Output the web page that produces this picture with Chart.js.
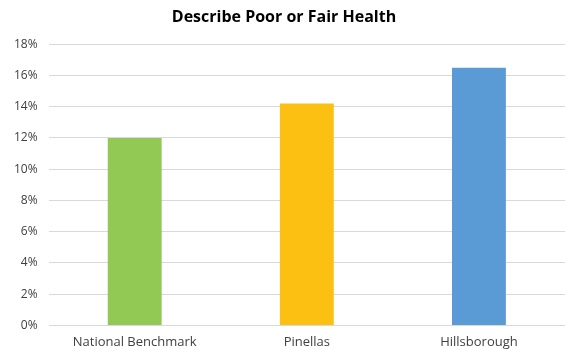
<!DOCTYPE html>
<html>
<head>
<meta charset="utf-8">
<script src="https://cdn.jsdelivr.net/npm/chart.js@4/dist/chart.umd.min.js"></script>
<style>
  html, body { margin: 0; padding: 0; background: #fff; }
  #wrap { width: 569px; height: 351px; }
</style>
</head>
<body>
<div id="wrap"><canvas id="health-canvas"></canvas></div>
<script>
// ========== Data
let categories = ['National Benchmark', 'Pinellas', 'Hillsborough'];
let values = [0.12, 0.142, 0.165];
let barColors = ['#92C955', '#FBC012', '#5B9BD5'];

let fontFamily = "'Open Sans', 'DejaVu Sans', sans-serif";

var healthCanvas = document.getElementById('health-canvas');

var myBarChart = new Chart(healthCanvas, {
    type: 'bar',
    data: {
        labels: categories,
        datasets: [{
            label: 'Describe Poor or Fair Health',
            data: values,
            backgroundColor: barColors,
            barPercentage: 0.313,
            categoryPercentage: 1
        }]
    },
    options: {
        responsive: true,
        maintainAspectRatio: false,
        animation: false,
        layout: { padding: { left: 3, right: 4, top: 0, bottom: 0 } },
        plugins: {
            legend: { display: false },
            tooltip: { enabled: false },
            title: {
                display: true,
                text: 'Describe Poor or Fair Health',
                color: '#000',
                font: { family: fontFamily, size: 16, weight: 'bold' },
                padding: { top: 8, bottom: 17 }
            }
        },
        scales: {
            x: {
                grid: { display: false },
                border: { display: false },
                ticks: {
                    color: '#404040',
                    font: { family: fontFamily, size: 13 },
                    padding: 1,
                    maxRotation: 0
                }
            },
            y: {
                min: 0,
                max: 0.18,
                grid: { color: '#d9d9d9', lineWidth: 1, drawTicks: false },
                border: { display: false },
                ticks: {
                    stepSize: 0.02,
                    color: '#404040',
                    font: { family: fontFamily, size: 12 },
                    padding: 11,
                    callback: function (v) { return Math.round(v * 100) + '%'; }
                }
            }
        }
    }
});
</script>
</body>
</html>
